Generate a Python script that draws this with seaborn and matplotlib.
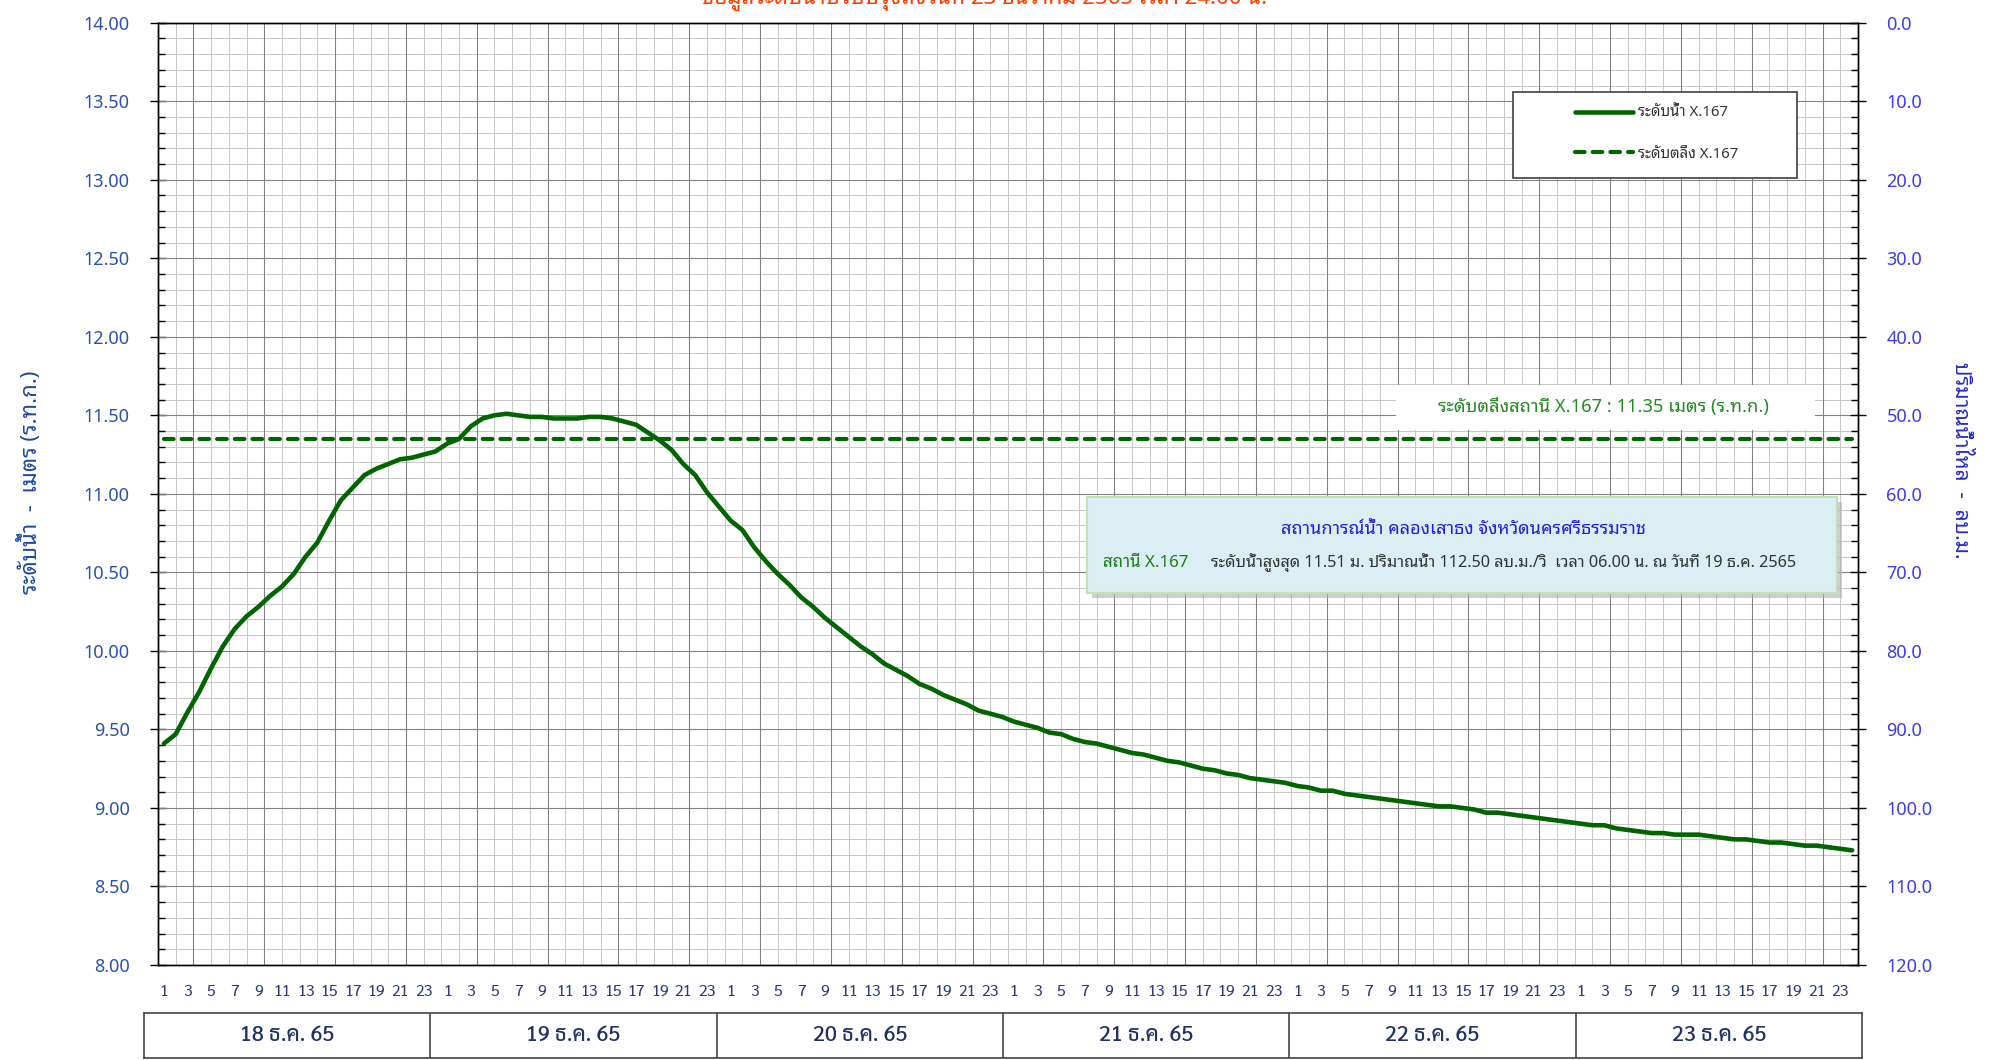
import matplotlib
matplotlib.use("Agg")
import matplotlib.pyplot as plt
import matplotlib.transforms as mtransforms
from matplotlib import font_manager
from matplotlib.lines import Line2D
from matplotlib.patches import Rectangle
from matplotlib.ticker import FixedLocator, FormatStrFormatter
import numpy as np
import pandas as pd
import seaborn as sns

# ระดับน้ำรายชั่วโมง (ม. ร.ท.ก.) ชั่วโมงที่ 1..24 ของแต่ละวัน
level_18 = [9.41, 9.47, 9.61, 9.74, 9.89, 10.03, 10.14, 10.22, 10.28, 10.35, 10.41, 10.49,
            10.60, 10.69, 10.83, 10.96, 11.04, 11.12, 11.16, 11.19, 11.22, 11.23, 11.25, 11.27]
level_19 = [11.32, 11.35, 11.43, 11.48, 11.50, 11.51, 11.50, 11.49, 11.49, 11.48, 11.48, 11.48,
            11.49, 11.49, 11.48, 11.46, 11.44, 11.39, 11.34, 11.28, 11.19, 11.12, 11.01, 10.92]
level_20 = [10.83, 10.77, 10.66, 10.57, 10.49, 10.42, 10.34, 10.28, 10.21, 10.15, 10.09, 10.03,
            9.98, 9.92, 9.88, 9.84, 9.79, 9.76, 9.72, 9.69, 9.66, 9.62, 9.60, 9.58]
level_21 = [9.55, 9.53, 9.51, 9.48, 9.47, 9.44, 9.42, 9.41, 9.39, 9.37, 9.35, 9.34,
            9.32, 9.30, 9.29, 9.27, 9.25, 9.24, 9.22, 9.21, 9.19, 9.18, 9.17, 9.16]
level_22 = [9.14, 9.13, 9.11, 9.11, 9.09, 9.08, 9.07, 9.06, 9.05, 9.04, 9.03, 9.02,
            9.01, 9.01, 9.00, 8.99, 8.97, 8.97, 8.96, 8.95, 8.94, 8.93, 8.92, 8.91]
level_23 = [8.90, 8.89, 8.89, 8.87, 8.86, 8.85, 8.84, 8.84, 8.83, 8.83, 8.83, 8.82,
            8.81, 8.80, 8.80, 8.79, 8.78, 8.78, 8.77, 8.76, 8.76, 8.75, 8.74, 8.73]

bank_level = 11.35
day_labels = ["18 ธ.ค. 65", "19 ธ.ค. 65", "20 ธ.ค. 65", "21 ธ.ค. 65", "22 ธ.ค. 65", "23 ธ.ค. 65"]
hour_labels = ["1", "3", "5", "7", "9", "11", "13", "15", "17", "19", "21", "23"]
left_ticks = [8.0, 8.5, 9.0, 9.5, 10.0, 10.5, 11.0, 11.5, 12.0, 12.5, 13.0, 13.5, 14.0]
right_ticks = [0, 10, 20, 30, 40, 50, 60, 70, 80, 90, 100, 110, 120]

title = "ข้อมูลระดับน้ำปรับปรุงถึงวันที่ 23 ธันวาคม 2565 เวลา 24.00 น."
box_title = "สถานการณ์น้ำ คลองเสาธง จังหวัดนครศรีธรรมราช"
box_station = "สถานี X.167"
box_detail = "ระดับน้ำสูงสุด 11.51 ม. ปริมาณน้ำ 112.50 ลบ.ม./วิ  เวลา 06.00 น. ณ วันที่ 19 ธ.ค. 2565"
bank_text = "ระดับตลิ่งสถานี X.167 : 11.35 เมตร (ร.ท.ก.)"

levels = level_18 + level_19 + level_20 + level_21 + level_22 + level_23
df = pd.DataFrame({"hour_idx": np.arange(len(levels)), "level": levels})
df["bank"] = bank_level

sns.set_style("white")
available = {f.name for f in font_manager.fontManager.ttflist}

def fams(*names):
    return [n for n in names if n in available] + ["DejaVu Sans"]

UI = fams("Tahoma", "Noto Sans Thai Looped", "Noto Sans Thai", "IBM Plex Sans Thai Looped", "Noto Sans")
NUM = fams("Noto Sans", "Open Sans")
COND = fams("Sarabun", "Roboto Condensed")
plt.rcParams["font.family"] = UI

W, H = 1990, 1060

def fx(px):
    return px / W

def fy(py):
    return 1 - py / H

fig = plt.figure(figsize=(W / 100, H / 100), dpi=100)
fig.patch.set_facecolor("white")

x0, x1, y0, y1 = 158, 1858, 22.7, 965
ax = fig.add_axes([fx(x0), fy(y1), (x1 - x0) / W, (y1 - y0) / H])

# เส้นกริด
light, dark = "#c8c8c8", "#808080"
ax.hlines(np.arange(8, 14.001, 0.1), -0.5, 143.5, colors=light, lw=0.75, zorder=0.5)
ax.hlines(left_ticks, -0.5, 143.5, colors=dark, lw=0.75, zorder=0.6)
ax.vlines(np.arange(0, 144.1, 1.5) - 0.5, 8, 14, colors=light, lw=0.75, zorder=0.5)
ax.vlines(np.arange(3, 144, 6) - 0.5, 8, 14, colors=dark, lw=0.75, zorder=0.6)

sns.lineplot(data=df, x="hour_idx", y="bank", ax=ax, color="#006400", lw=3.0,
             linestyle=(0, (2.3, 1.95)), dash_capstyle="round", zorder=3)
sns.lineplot(data=df, x="hour_idx", y="level", ax=ax, color="#006400", lw=3.3,
             solid_capstyle="round", solid_joinstyle="round", zorder=4)

ax.set_xlim(-0.5, 143.5)
ax.set_ylim(8, 14)
ax.set_xlabel("")
ax.set_ylabel("")
for s in ax.spines.values():
    s.set_color("black")
    s.set_linewidth(1.0)

ax.yaxis.set_major_locator(FixedLocator(left_ticks))
ax.yaxis.set_minor_locator(FixedLocator(np.arange(8, 14.001, 0.1)))
ax.yaxis.set_major_formatter(FormatStrFormatter("%.2f"))
ax.tick_params(axis="y", which="major", direction="inout", length=11, width=1.0, pad=15,
               labelsize=13, labelcolor="#2a52ad", color="black")
ax.tick_params(axis="y", which="minor", direction="in", length=5, width=1.0, color="black")
for lab in ax.get_yticklabels():
    lab.set_family(NUM)

ax.xaxis.set_major_locator(FixedLocator(np.arange(0, 144.1, 3) - 0.5))
ax.xaxis.set_minor_locator(FixedLocator(np.arange(1.5, 144, 3) - 0.5))
ax.tick_params(axis="x", which="major", direction="out", length=5, width=1.0, labelbottom=False, color="black")
ax.tick_params(axis="x", which="minor", direction="in", length=5, width=1.0, color="black")

ax2 = ax.twinx()
ax2.set_ylim(120, 0)
ax2.yaxis.set_major_locator(FixedLocator(right_ticks))
ax2.yaxis.set_minor_locator(FixedLocator(np.arange(0, 120.1, 2)))
ax2.yaxis.set_major_formatter(FormatStrFormatter("%.1f"))
ax2.tick_params(axis="y", which="major", direction="inout", length=11, width=1.0, pad=15,
                labelsize=13, labelcolor="#3b3bef", color="black")
ax2.tick_params(axis="y", which="minor", direction="in", length=5, width=1.0, color="black")
for lab in ax2.get_yticklabels():
    lab.set_family(NUM)
for s in ax2.spines.values():
    s.set_color("black")
    s.set_linewidth(1.0)

# ป้ายชั่วโมงใต้แกน x
trans = mtransforms.blended_transform_factory(ax.transData, ax.transAxes)
for i in range(0, len(levels), 2):
    ax.text(i, -(992 - y1) / (y1 - y0), hour_labels[(i % 24) // 2], transform=trans,
            ha="center", va="center", fontsize=11.5, color="#2a3c78", family=COND)

# ตารางวันที่
axd = fig.add_axes([fx(144), fy(1058), (1862 - 144) / W, 45 / H])
axd.set_xlim(0, 6)
axd.set_ylim(0, 1)
axd.set_xticks([])
axd.set_yticks([])
for s in axd.spines.values():
    s.set_color("#444444")
    s.set_linewidth(1.2)
axd.vlines(np.arange(1, 6), 0, 1, colors="#444444", lw=1.2)
for k, lab in enumerate(day_labels):
    axd.text(k + 0.5, 0.5, lab, ha="center", va="center", fontsize=15.5, weight="medium",
             color="#1e3264", family=COND)

# ชื่อกราฟ (ถูกตัดที่ขอบบน)
fig.text(fx(985), fy(4), title, ha="center", va="baseline", fontsize=16, weight="bold", color="#ff3d00")

# ชื่อแกน
fig.text(fx(30), fy(482), "ระดับน้ำ  -  เมตร (ร.ท.ก.)", rotation=90, ha="center", va="center",
         fontsize=16, weight="bold", color="#1f49a0")
fig.text(fx(1961), fy(460), "ปริมาณน้ำไหล  -  ลบ.ม.", rotation=-90, ha="center", va="center",
         fontsize=15, weight="bold", color="#2a2acf")

# คำอธิบายเส้น
fig.add_artist(Rectangle((fx(1513), fy(178)), (1797 - 1513) / W, (178 - 92) / H,
                         transform=fig.transFigure, facecolor="white", edgecolor="#404040", lw=1.2, zorder=2))
handles = [Line2D([], [], color="#006400", lw=3.3, solid_capstyle="round"),
           Line2D([], [], color="#006400", lw=3.0, linestyle=(0, (2.3, 1.95)), dash_capstyle="round")]
fig.legend(handles, ["ระดับน้ำ X.167", "ระดับตลิ่ง X.167"], loc="center left",
           bbox_to_anchor=(fx(1575), fy(134)), bbox_transform=fig.transFigure, frameon=False,
           borderaxespad=0, borderpad=0, handlelength=3.9, handletextpad=0.35, labelspacing=1.7,
           prop={"family": UI, "size": 10.7}, labelcolor="#333333")

# ป้ายระดับตลิ่ง
fig.add_artist(Rectangle((fx(1396), fy(430)), (1815 - 1396) / W, (430 - 385) / H,
                         transform=fig.transFigure, facecolor="white", edgecolor="none", zorder=2))
fig.text(fx(1603), fy(407), bank_text, ha="center", va="center", fontsize=13.2, weight="bold",
         color="#228b22", zorder=3)

# กล่องสถานการณ์น้ำ
fig.add_artist(Rectangle((fx(1092), fy(598)), (1842 - 1092) / W, (598 - 502) / H,
                         transform=fig.transFigure, facecolor="#b0b0b0", edgecolor="none", alpha=0.6, zorder=2))
fig.add_artist(Rectangle((fx(1087), fy(593)), (1837 - 1087) / W, (593 - 497) / H,
                         transform=fig.transFigure, facecolor="#daeef3", edgecolor="#bfe3b4", lw=1.5, zorder=2))
fig.text(fx(1463), fy(529), box_title, ha="center", va="center", fontsize=13, weight="bold",
         color="#2020dd", zorder=3)
fig.text(fx(1103), fy(563), box_station, ha="left", va="center", fontsize=12.2, weight="bold",
         color="#1e7b1e", zorder=3)
fig.text(fx(1211), fy(563), box_detail, ha="left", va="center", fontsize=11.7,
         color="#333333", zorder=3)

fig.savefig("out.png", dpi=100, facecolor="white")
